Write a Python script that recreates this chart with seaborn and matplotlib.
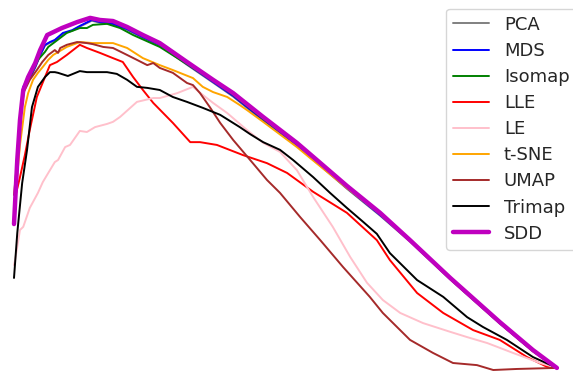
import matplotlib
matplotlib.use("Agg")
import matplotlib.pyplot as plt
import pandas as pd
import seaborn as sns

sns.set_style("white")
plt.rcParams["font.family"] = ["DejaVu Sans"]

# neighbourhood size (% of dataset) and normalised quality score per method
pca_x = [0, 0.6, 1.1, 1.7, 2.4, 2.9, 3.9, 4.8, 5.7, 6.6, 7.5, 9.0, 10.7, 12.1, 14.3, 15.8,
         18.2, 20.8, 23.7, 26.8, 31.8, 36.6, 40.3, 45.8, 52.0, 55.0, 61.2, 67.3, 72.8,
         80.2, 89.3, 95.4, 99.8]
pca_y = [0.440, 0.584, 0.698, 0.806, 0.827, 0.832, 0.864, 0.898, 0.927, 0.935, 0.941,
         0.961, 0.969, 0.981, 0.998, 0.992, 0.987, 0.972, 0.949, 0.927, 0.872, 0.821,
         0.781, 0.712, 0.641, 0.601, 0.518, 0.441, 0.367, 0.259, 0.133, 0.054, 0.006]

mds_x = [0, 0.6, 1.1, 1.7, 2.4, 2.9, 3.9, 4.8, 5.7, 6.6, 7.5, 9.0, 10.7, 12.1, 14.3, 15.8,
         18.2, 20.8, 23.7, 26.8, 31.8, 36.6, 40.3, 45.8, 52.0, 55.0, 61.2, 67.3, 72.8,
         80.2, 89.3, 95.4, 99.8]
mds_y = [0.443, 0.586, 0.700, 0.809, 0.829, 0.834, 0.866, 0.900, 0.929, 0.937, 0.943,
         0.963, 0.971, 0.983, 1.000, 0.994, 0.989, 0.974, 0.951, 0.929, 0.874, 0.823,
         0.783, 0.714, 0.643, 0.603, 0.520, 0.443, 0.369, 0.260, 0.134, 0.054, 0.006]

isomap_x = [0, 0.6, 1.1, 1.7, 2.6, 3.5, 4.4, 5.7, 6.3, 7.5, 9.7, 12.1, 13.4, 14.5, 17.1,
            19.5, 21.9, 26.8, 31.8, 36.6, 40.3, 45.8, 52.0, 55.0, 61.2, 67.3, 72.8, 80.2,
            89.3, 95.4, 99.8]
isomap_y = [0.429, 0.594, 0.709, 0.794, 0.829, 0.857, 0.886, 0.909, 0.923, 0.937, 0.963,
            0.977, 0.977, 0.986, 0.989, 0.977, 0.957, 0.923, 0.874, 0.826, 0.786, 0.717,
            0.646, 0.606, 0.523, 0.446, 0.369, 0.260, 0.134, 0.054, 0.006]

lle_x = [0, 1.1, 2.0, 2.9, 4.2, 5.7, 6.6, 7.9, 9.7, 12.1, 13.4, 15.8, 18.2, 20.0, 21.9,
         23.7, 25.6, 29.2, 32.4, 34.2, 37.3, 42.1, 46.5, 50.2, 55.0, 61.2, 66.7, 69.1,
         74.1, 78.9, 84.4, 89.3, 94.3, 98.0, 99.8]
lle_y = [0.480, 0.551, 0.614, 0.686, 0.780, 0.837, 0.871, 0.880, 0.900, 0.929, 0.920,
         0.906, 0.891, 0.880, 0.837, 0.800, 0.763, 0.706, 0.651, 0.651, 0.643, 0.614,
         0.591, 0.563, 0.509, 0.449, 0.371, 0.314, 0.220, 0.163, 0.114, 0.086, 0.037,
         0.009, 0.006]

le_x = [0, 0.2, 1.1, 1.7, 2.9, 4.4, 5.3, 6.3, 7.5, 8.1, 9.4, 10.3, 12.1, 13.4, 14.9, 17.1,
        18.2, 19.5, 22.6, 25.6, 26.8, 30.0, 32.9, 34.7, 36.6, 39.2, 42.8, 45.8, 48.9,
        52.0, 55.0, 58.6, 61.8, 64.9, 67.8, 71.0, 75.2, 80.2, 83.3, 87.0, 91.7, 96.7, 99.8]
le_y = [0.300, 0.314, 0.400, 0.409, 0.463, 0.506, 0.537, 0.563, 0.594, 0.600, 0.637,
        0.643, 0.683, 0.680, 0.694, 0.703, 0.709, 0.723, 0.766, 0.777, 0.777, 0.791,
        0.809, 0.786, 0.763, 0.734, 0.686, 0.649, 0.623, 0.571, 0.494, 0.409, 0.323,
        0.249, 0.200, 0.163, 0.134, 0.109, 0.094, 0.077, 0.049, 0.020, 0.006]

tsne_x = [0, 0.6, 1.1, 2.0, 2.6, 3.5, 4.4, 5.3, 6.3, 7.2, 9.7, 12.1, 14.5, 17.1, 18.2,
          20.8, 23.7, 26.8, 29.2, 32.9, 34.7, 36.6, 39.2, 41.5, 42.8, 45.8, 52.0, 54.4,
          61.2, 67.3, 72.8, 80.2, 89.3, 95.4, 99.8]
tsne_y = [0.451, 0.557, 0.643, 0.751, 0.791, 0.829, 0.849, 0.866, 0.886, 0.900, 0.923,
          0.937, 0.934, 0.934, 0.934, 0.920, 0.891, 0.871, 0.857, 0.834, 0.809, 0.794,
          0.780, 0.757, 0.743, 0.709, 0.637, 0.606, 0.520, 0.446, 0.369, 0.260, 0.134,
          0.054, 0.006]

umap_x = [0, 0.6, 1.1, 1.8, 2.9, 4.2, 5.2, 6.3, 7.5, 8.1, 8.5, 9.7, 11.6, 13.4, 14.5,
          16.4, 18.2, 20.8, 22.6, 24.5, 25.6, 26.8, 29.2, 31.8, 32.9, 34.2, 36.0, 37.9,
          40.3, 43.9, 46.5, 48.9, 52.6, 56.3, 60.5, 65.4, 67.8, 72.8, 77.0, 80.7, 85.1,
          88.1, 92.5, 99.8]
umap_y = [0.500, 0.600, 0.709, 0.794, 0.829, 0.857, 0.880, 0.900, 0.914, 0.906, 0.920,
          0.929, 0.937, 0.934, 0.931, 0.923, 0.920, 0.900, 0.886, 0.871, 0.877, 0.863,
          0.849, 0.820, 0.814, 0.791, 0.751, 0.706, 0.657, 0.591, 0.543, 0.506, 0.437,
          0.371, 0.294, 0.209, 0.163, 0.086, 0.049, 0.020, 0.014, 0.000, 0.003, 0.006]

trimap_x = [0, 0.6, 1.5, 2.4, 3.3, 4.4, 5.7, 6.6, 7.5, 8.1, 9.9, 12.1, 13.4, 17.1, 18.9,
            20.8, 22.6, 24.5, 26.8, 29.2, 31.8, 34.7, 37.9, 41.5, 43.4, 45.8, 48.9, 51.3,
            55.0, 58.1, 61.2, 64.2, 66.7, 69.1, 74.1, 78.9, 83.3, 86.2, 90.6, 95.4, 99.8]
trimap_y = [0.263, 0.391, 0.534, 0.629, 0.751, 0.809, 0.837, 0.851, 0.851, 0.849, 0.840,
            0.854, 0.851, 0.851, 0.846, 0.829, 0.809, 0.806, 0.800, 0.780, 0.766, 0.749,
            0.729, 0.694, 0.674, 0.651, 0.629, 0.600, 0.551, 0.506, 0.463, 0.423, 0.389,
            0.334, 0.257, 0.209, 0.151, 0.123, 0.086, 0.037, 0.006]

sdd_x = [0, 0.6, 1.1, 1.7, 2.6, 3.9, 4.8, 6.1, 8.8, 11.6, 14.0, 15.8, 18.2, 20.8, 23.7,
         26.8, 31.8, 36.6, 40.3, 45.8, 52.0, 55.0, 61.2, 67.3, 72.8, 80.2, 89.3, 95.4, 99.8]
sdd_y = [0.417, 0.600, 0.714, 0.800, 0.837, 0.877, 0.914, 0.957, 0.977, 0.994, 1.006,
         1.000, 0.997, 0.980, 0.957, 0.934, 0.880, 0.829, 0.791, 0.723, 0.649, 0.609,
         0.526, 0.449, 0.371, 0.263, 0.137, 0.057, 0.006]

methods = ["PCA", "MDS", "Isomap", "LLE", "LE", "t-SNE", "UMAP", "Trimap", "SDD"]
series = [(pca_x, pca_y), (mds_x, mds_y), (isomap_x, isomap_y), (lle_x, lle_y),
          (le_x, le_y), (tsne_x, tsne_y), (umap_x, umap_y), (trimap_x, trimap_y),
          (sdd_x, sdd_y)]
colors = ["gray", "blue", "green", "red", "pink", "orange", "brown", "black", "m"]
widths = [1.4, 1.4, 1.4, 1.4, 1.4, 1.4, 1.4, 1.4, 3.2]

fig = plt.figure(figsize=(5.73, 3.72), dpi=100)
ax = fig.add_axes([0, 0, 1, 1])

for name, (xs, ys), c, lw in zip(methods, series, colors, widths):
    df = pd.DataFrame({"k": xs, "score": ys})
    sns.lineplot(data=df, x="k", y="score", ax=ax, color=c, linewidth=lw,
                 label=name, estimator=None, sort=False)

ax.set_xlim(-2.574, 102.76)
ax.set_ylim(-0.0057, 1.0571)
ax.set_axis_off()

ax.legend(loc="upper left", bbox_to_anchor=(446 / 573, 1 - 8.5 / 372),
          bbox_transform=fig.transFigure, fontsize=13, labelspacing=0.45,
          borderaxespad=0)

fig.savefig("out.png", dpi=100)
